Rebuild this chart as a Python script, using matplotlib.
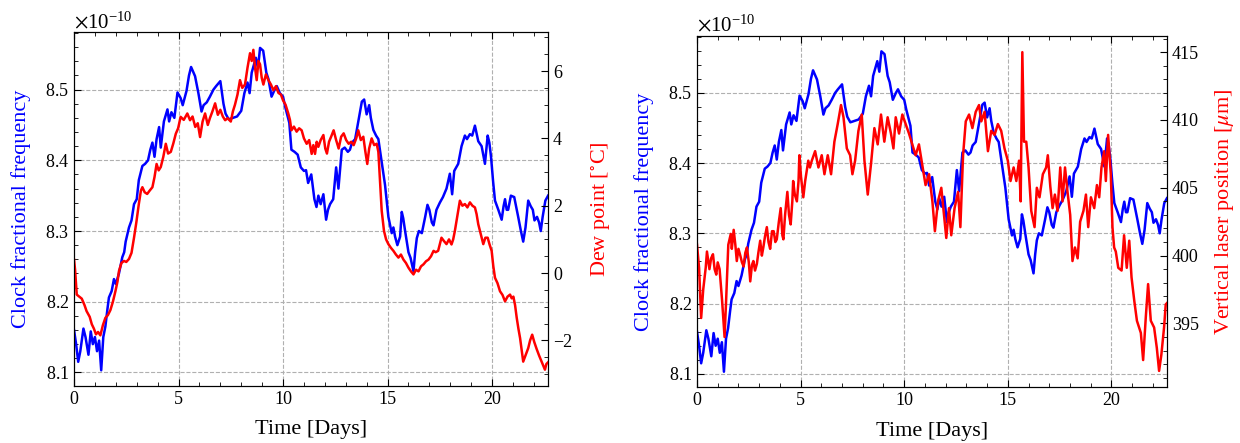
import matplotlib
matplotlib.use("Agg")
import matplotlib.pyplot as plt
from matplotlib.ticker import MultipleLocator, ScalarFormatter

plt.rcParams['font.family'] = ['Liberation Serif', 'DejaVu Serif']
plt.rcParams['mathtext.fontset'] = 'stix'

# clock fractional frequency (units of 1e-10), shared by both panels
clock_t = [0.0, 0.1, 0.2, 0.3, 0.45, 0.55, 0.69, 0.8, 0.9, 1.0, 1.1, 1.2, 1.3, 1.4, 1.5, 1.6, 1.67, 1.8,
           1.91, 2.0, 2.15, 2.31, 2.4, 2.47, 2.63, 2.75, 2.87, 3.0, 3.1, 3.27, 3.4, 3.54, 3.65, 3.75, 3.85,
           3.95, 4.07, 4.15, 4.3, 4.47, 4.55, 4.66, 4.8, 4.95, 5.1, 5.2, 5.38, 5.5, 5.6, 5.79, 5.95, 6.1,
           6.2, 6.35, 6.5, 6.67, 6.8, 7.0, 7.15, 7.25, 7.4, 7.6, 7.8, 8.0, 8.15, 8.3, 8.4, 8.5, 8.7, 8.8,
           8.9, 9.05, 9.2, 9.3, 9.45, 9.6, 9.7, 9.85, 10.0, 10.1, 10.3, 10.4, 10.55, 10.7, 10.85, 11.0,
           11.1, 11.2, 11.35, 11.5, 11.6, 11.69, 11.8, 11.93, 12.06, 12.15, 12.25, 12.4, 12.54, 12.65,
           12.81, 12.95, 13.1, 13.2, 13.3, 13.45, 13.6, 13.77, 13.88, 14.0, 14.12, 14.2, 14.32, 14.45,
           14.56, 14.72, 14.88, 15.04, 15.2, 15.28, 15.36, 15.47, 15.6, 15.68, 15.75, 15.84, 16.0, 16.1,
           16.24, 16.32, 16.4, 16.5, 16.64, 16.8, 16.91, 17.0, 17.12, 17.2, 17.34, 17.5, 17.65, 17.82,
           17.98, 18.09, 18.19, 18.38, 18.54, 18.7, 18.8, 18.94, 19.05, 19.18, 19.34, 19.5, 19.66, 19.79,
           19.87, 19.95, 20.05, 20.14, 20.3, 20.46, 20.55, 20.62, 20.7, 20.77, 20.9, 21.06, 21.15, 21.25,
           21.38, 21.49, 21.6, 21.73, 21.85, 21.95, 22.03, 22.15, 22.25, 22.33, 22.42, 22.55, 22.68]
clock_f = [8.160, 8.140, 8.115, 8.130, 8.162, 8.150, 8.125, 8.158, 8.140, 8.150, 8.130, 8.145, 8.103,
           8.150, 8.165, 8.190, 8.206, 8.215, 8.232, 8.225, 8.240, 8.263, 8.270, 8.285, 8.305, 8.315,
           8.338, 8.345, 8.372, 8.392, 8.395, 8.400, 8.415, 8.425, 8.405, 8.430, 8.447, 8.418, 8.455,
           8.472, 8.455, 8.468, 8.460, 8.496, 8.488, 8.478, 8.498, 8.520, 8.532, 8.519, 8.495, 8.469,
           8.478, 8.482, 8.490, 8.500, 8.505, 8.512, 8.480, 8.466, 8.458, 8.460, 8.462, 8.470, 8.495,
           8.510, 8.495, 8.524, 8.545, 8.530, 8.559, 8.555, 8.524, 8.515, 8.490, 8.500, 8.505, 8.495,
           8.490, 8.476, 8.453, 8.415, 8.412, 8.408, 8.390, 8.385, 8.386, 8.368, 8.380, 8.345, 8.334,
           8.350, 8.338, 8.352, 8.316, 8.330, 8.338, 8.345, 8.390, 8.360, 8.415, 8.418, 8.412, 8.415,
           8.425, 8.430, 8.455, 8.483, 8.486, 8.465, 8.478, 8.460, 8.443, 8.435, 8.430, 8.397, 8.365,
           8.320, 8.297, 8.305, 8.292, 8.280, 8.292, 8.327, 8.318, 8.300, 8.270, 8.262, 8.243, 8.270,
           8.290, 8.300, 8.297, 8.320, 8.337, 8.330, 8.312, 8.308, 8.330, 8.340, 8.348, 8.360, 8.381,
           8.352, 8.385, 8.395, 8.420, 8.435, 8.430, 8.437, 8.435, 8.449, 8.427, 8.420, 8.395, 8.435,
           8.425, 8.405, 8.370, 8.343, 8.330, 8.316, 8.335, 8.345, 8.330, 8.330, 8.350, 8.348, 8.335,
           8.320, 8.300, 8.285, 8.305, 8.343, 8.335, 8.330, 8.315, 8.320, 8.312, 8.300, 8.320, 8.343,
           8.350]

# dew point [degC]
dew_t = [0.0, 0.05, 0.13, 0.25, 0.37, 0.5, 0.6, 0.75, 0.85, 0.95, 1.05, 1.15, 1.26, 1.38, 1.5, 1.62,
         1.74, 1.86, 1.98, 2.08, 2.15, 2.27, 2.39, 2.5, 2.63, 2.75, 2.87, 2.98, 3.1, 3.2, 3.27, 3.38,
         3.5, 3.62, 3.75, 3.85, 3.95, 4.05, 4.15, 4.27, 4.39, 4.5, 4.63, 4.75, 4.87, 4.98, 5.1, 5.25,
         5.42, 5.55, 5.67, 5.8, 5.92, 6.03, 6.15, 6.27, 6.4, 6.5, 6.62, 6.75, 6.88, 7.0, 7.12, 7.23,
         7.35, 7.5, 7.6, 7.7, 7.82, 7.94, 8.05, 8.18, 8.3, 8.42, 8.5, 8.58, 8.66, 8.74, 8.82, 8.9,
         8.98, 9.06, 9.18, 9.3, 9.42, 9.54, 9.66, 9.78, 9.9, 10.0, 10.12, 10.25, 10.33, 10.4, 10.52,
         10.65, 10.77, 10.89, 11.0, 11.13, 11.25, 11.37, 11.45, 11.53, 11.61, 11.69, 11.8, 11.93,
         12.02, 12.1, 12.2, 12.3, 12.42, 12.54, 12.66, 12.78, 12.9, 13.02, 13.14, 13.26, 13.38, 13.5,
         13.6, 13.72, 13.84, 13.94, 14.03, 14.12, 14.24, 14.36, 14.48, 14.56, 14.64, 14.72, 14.83,
         14.93, 15.04, 15.16, 15.28, 15.4, 15.52, 15.64, 15.76, 15.88, 16.0, 16.12, 16.24, 16.36,
         16.48, 16.6, 16.72, 16.84, 16.96, 17.08, 17.2, 17.3, 17.42, 17.5, 17.58, 17.7, 17.82, 17.94,
         18.06, 18.14, 18.22, 18.34, 18.46, 18.58, 18.7, 18.82, 18.94, 19.06, 19.18, 19.26, 19.34,
         19.46, 19.58, 19.68, 19.79, 19.88, 19.98, 20.06, 20.14, 20.26, 20.38, 20.5, 20.62, 20.74,
         20.86, 20.94, 21.02, 21.1, 21.18, 21.26, 21.34, 21.42, 21.49, 21.6, 21.73, 21.82, 21.92,
         22.02, 22.13, 22.25, 22.37, 22.45, 22.53, 22.6, 22.68]
dew_c = [0.40, 0.10, -0.64, -0.70, -0.76, -0.95, -1.13, -1.30, -1.52, -1.65, -1.82, -1.75, -1.85,
         -1.55, -1.33, -1.25, -1.10, -0.85, -0.54, -0.25, 0.06, 0.30, 0.36, 0.33, 0.42, 0.60, 1.05,
         1.50, 2.05, 2.45, 2.55, 2.40, 2.35, 2.45, 2.55, 2.85, 3.24, 3.05, 3.15, 3.45, 3.84, 3.55,
         3.60, 3.85, 4.14, 4.30, 4.64, 4.55, 4.74, 4.54, 4.65, 4.34, 4.45, 4.04, 4.50, 4.74, 4.40,
         4.60, 4.80, 5.04, 4.70, 4.85, 4.65, 4.54, 4.60, 4.50, 4.80, 5.00, 5.30, 5.73, 5.50, 5.60,
         6.10, 6.53, 6.30, 6.63, 6.10, 5.73, 6.30, 6.20, 5.80, 5.60, 5.90, 5.73, 5.60, 5.43, 5.55,
         5.35, 5.30, 5.13, 5.00, 4.74, 4.55, 4.24, 4.35, 4.20, 4.30, 4.24, 4.00, 3.84, 3.95, 3.54,
         3.80, 3.54, 3.90, 3.75, 3.95, 4.10, 3.70, 3.55, 3.90, 4.05, 4.24, 3.95, 3.70, 4.05, 4.15,
         3.95, 3.84, 3.90, 3.80, 4.00, 4.24, 3.95, 4.05, 3.60, 3.24, 3.70, 4.00, 3.80, 3.84, 3.60,
         2.75, 1.85, 1.25, 1.00, 0.86, 0.75, 0.66, 0.55, 0.46, 0.55, 0.40, 0.30, 0.16, 0.05, -0.04,
         0.10, 0.05, 0.20, 0.26, 0.35, 0.40, 0.50, 0.66, 0.62, 0.66, 0.85, 1.05, 0.95, 0.86, 1.00,
         0.85, 1.00, 1.25, 1.70, 2.15, 2.00, 2.05, 1.95, 2.10, 2.00, 1.95, 1.75, 1.45, 1.15, 0.86,
         1.05, 1.05, 0.85, 0.66, 0.20, -0.14, -0.30, -0.54, -0.65, -0.84, -0.70, -0.64, -0.75, -0.70,
         -0.95, -1.33, -1.65, -1.93, -2.30, -2.63, -2.45, -2.23, -2.00, -1.83, -2.05, -2.25, -2.45,
         -2.63, -2.75, -2.87, -2.70, -2.65]

# vertical laser position [um]
laser_t = [0.0, 0.1, 0.2, 0.3, 0.42, 0.48, 0.6, 0.68, 0.77, 0.85, 0.93, 1.0, 1.09, 1.21, 1.33, 1.4,
           1.51, 1.63, 1.68, 1.77, 1.85, 1.92, 2.0, 2.09, 2.17, 2.25, 2.33, 2.41, 2.5, 2.57, 2.65, 2.72,
           2.8, 2.89, 2.96, 3.05, 3.13, 3.2, 3.28, 3.37, 3.45, 3.53, 3.62, 3.7, 3.78, 3.85, 3.95, 4.04,
           4.12, 4.17, 4.25, 4.36, 4.44, 4.52, 4.6, 4.64, 4.72, 4.82, 4.9, 4.94, 5.02, 5.13, 5.22, 5.37,
           5.45, 5.54, 5.7, 5.86, 6.02, 6.15, 6.31, 6.47, 6.63, 6.79, 6.95, 7.07, 7.23, 7.39, 7.5, 7.63,
           7.79, 7.95, 8.08, 8.24, 8.4, 8.56, 8.72, 8.88, 9.04, 9.2, 9.36, 9.48, 9.59, 9.75, 9.91, 10.07,
           10.23, 10.39, 10.55, 10.71, 10.87, 11.03, 11.2, 11.36, 11.48, 11.63, 11.79, 11.9, 12.03,
           12.16, 12.27, 12.43, 12.6, 12.71, 12.84, 12.97, 13.13, 13.29, 13.45, 13.61, 13.72, 13.88,
           14.04, 14.2, 14.36, 14.52, 14.68, 14.84, 15.0, 15.13, 15.28, 15.41, 15.54, 15.62, 15.7,
           15.78, 15.89, 16.0, 16.13, 16.29, 16.4, 16.53, 16.69, 16.85, 16.93, 17.05, 17.16, 17.27,
           17.4, 17.53, 17.64, 17.76, 17.88, 18.01, 18.12, 18.24, 18.37, 18.49, 18.65, 18.77, 18.88,
           19.01, 19.17, 19.3, 19.41, 19.52, 19.65, 19.73, 19.84, 19.97, 20.05, 20.13, 20.21, 20.33,
           20.49, 20.61, 20.74, 20.86, 20.97, 21.1, 21.23, 21.42, 21.53, 21.66, 21.77, 21.9, 22.06,
           22.19, 22.3, 22.41, 22.54, 22.62, 22.68]
laser_um = [400.8, 399.1, 395.4, 397.5, 399.1, 400.3, 399.0, 399.8, 400.1, 399.0, 398.6, 399.5, 399.0,
            396.7, 394.0, 396.5, 400.8, 401.6, 400.5, 401.9, 400.8, 399.6, 400.5, 400.0, 399.5, 399.2,
            400.2, 400.6, 399.5, 398.1, 399.3, 399.6, 398.9, 399.4, 400.2, 401.1, 400.0, 400.6, 401.4,
            402.1, 401.0, 400.5, 401.8, 401.8, 401.0, 401.2, 402.5, 403.5, 401.5, 401.2, 403.0, 404.7,
            403.0, 402.3, 404.0, 405.5, 404.5, 404.0, 405.5, 407.4, 405.8, 404.3, 405.5, 407.0, 406.5,
            407.0, 407.7, 406.5, 407.4, 406.0, 407.4, 406.0, 408.4, 409.7, 411.1, 410.2, 407.9, 407.4,
            406.0, 407.0, 409.2, 410.4, 407.0, 404.5, 406.8, 409.4, 408.2, 410.4, 408.4, 410.2, 409.0,
            407.9, 410.2, 409.0, 410.4, 409.7, 409.0, 408.2, 407.4, 408.2, 406.7, 405.2, 406.0, 404.0,
            401.8, 404.0, 405.0, 403.3, 401.3, 403.5, 401.5, 403.5, 404.7, 402.1, 407.4, 409.9, 410.4,
            409.4, 410.6, 411.1, 409.9, 410.6, 407.7, 409.2, 408.9, 409.7, 409.2, 407.9, 407.0, 405.5,
            406.5, 405.5, 407.0, 404.0, 415.0, 408.4, 408.4, 406.5, 403.3, 402.1, 405.0, 404.3, 406.0,
            406.5, 407.4, 405.1, 403.5, 404.5, 403.3, 406.5, 404.0, 406.5, 404.7, 403.0, 399.6, 400.6,
            399.8, 402.5, 403.3, 404.5, 402.1, 404.3, 403.5, 405.2, 404.3, 406.5, 407.7, 405.5, 408.9,
            406.0, 402.1, 400.6, 400.3, 399.1, 398.9, 401.5, 399.1, 401.1, 398.4, 396.7, 395.2, 394.3,
            392.3, 395.5, 397.9, 395.2, 394.7, 393.2, 391.5, 392.7, 394.7, 396.4, 396.5]

clock = [v * 1e-10 for v in clock_f]

fig = plt.figure(figsize=(12.4, 4.43), dpi=100)
ax1 = fig.add_axes([0.0597, 0.129, 0.3823, 0.798])
ax2 = fig.add_axes([0.5621, 0.126, 0.3790, 0.793])


def style_main(ax):
    ax.set_xlim(0, 22.68)
    ax.set_ylim(8.081e-10, 8.581e-10)
    ax.xaxis.set_major_locator(MultipleLocator(5))
    ax.xaxis.set_minor_locator(MultipleLocator(1))
    ax.yaxis.set_major_locator(MultipleLocator(0.1e-10))
    ax.yaxis.set_minor_locator(MultipleLocator(0.02e-10))
    fmt = ScalarFormatter(useMathText=True, useOffset=False)
    fmt.set_powerlimits((-3, 3))
    ax.yaxis.set_major_formatter(fmt)
    ax.yaxis.get_offset_text().set_fontsize(15)
    ax.tick_params(which='both', direction='in', top=True, labelsize=13)
    ax.tick_params(which='major', length=5)
    ax.tick_params(which='minor', length=3)
    ax.grid(True, which='major', linestyle='--', color='#b0b0b0', linewidth=0.8)
    ax.set_xlabel('Time [Days]', fontsize=16, labelpad=9)
    ax.set_ylabel('Clock fractional frequency', fontsize=16, color='blue', labelpad=10)


def style_twin(tw):
    tw.tick_params(which='both', direction='in', labelsize=13)
    tw.tick_params(which='major', length=5)
    tw.tick_params(which='minor', length=3)


# left panel: clock vs dew point
style_main(ax1)
ax1.plot(clock_t, clock, color='blue', linewidth=1.8)
tw1 = ax1.twinx()
tw1.plot(dew_t, dew_c, color='red', linewidth=1.8)
tw1.set_ylim(-3.35, 7.15)
tw1.yaxis.set_major_locator(MultipleLocator(2))
tw1.yaxis.set_minor_locator(MultipleLocator(0.5))
tw1.set_ylabel('Dew point [$^{\\circ}$C]', fontsize=16, color='red', labelpad=13)
style_twin(tw1)

# right panel: clock vs vertical laser position
style_main(ax2)
ax2.plot(clock_t, clock, color='blue', linewidth=1.8)
tw2 = ax2.twinx()
tw2.plot(laser_t, laser_um, color='red', linewidth=1.8)
tw2.set_ylim(390.3, 416.2)
tw2.yaxis.set_major_locator(MultipleLocator(5))
tw2.yaxis.set_minor_locator(MultipleLocator(1))
tw2.set_ylabel('Vertical laser position [$\\mu$m]', fontsize=16, color='red', labelpad=10)
style_twin(tw2)

fig.savefig('out.png', dpi=100)
